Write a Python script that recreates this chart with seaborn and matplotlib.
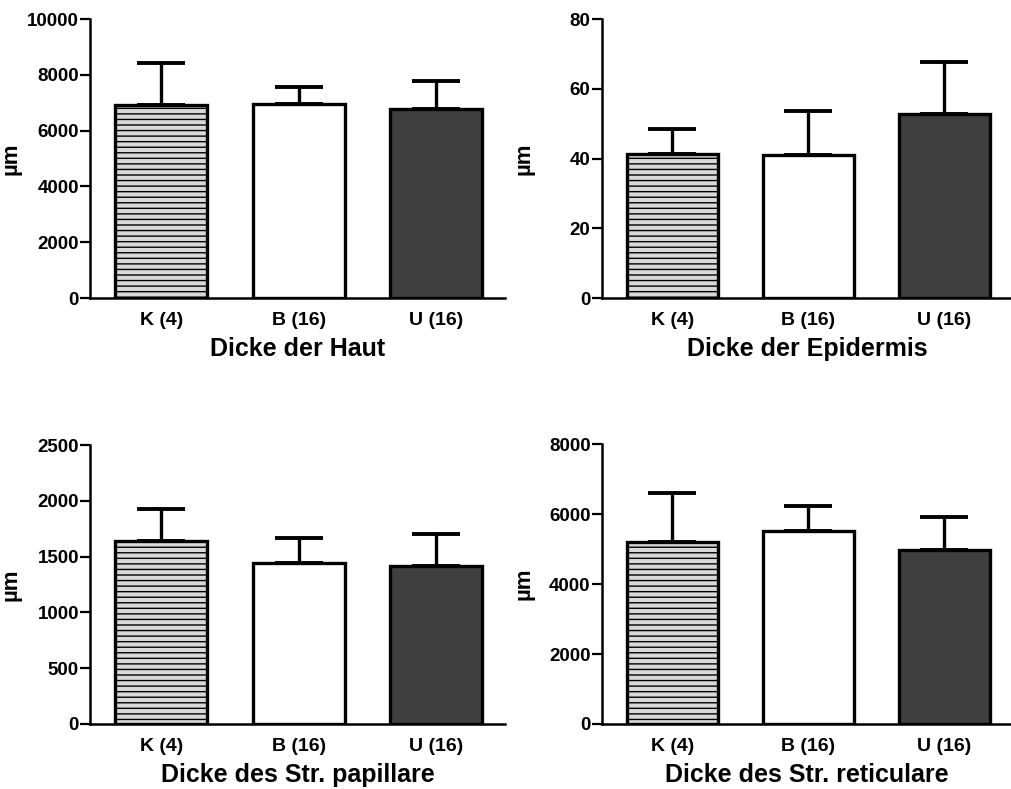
import numpy as np
import pandas as pd
import matplotlib
matplotlib.use("Agg")
import matplotlib.pyplot as plt
import seaborn as sns

# ---- data ----
groups = ["K (4)", "B (16)", "U (16)"]
titles = ["Dicke der Haut", "Dicke der Epidermis",
          "Dicke des Str. papillare", "Dicke des Str. reticulare"]
haut_mean = [6920, 6940, 6760]
haut_err = [1490, 620, 1020]
epi_mean = [41.4, 41.0, 52.8]
epi_err = [7.2, 12.6, 15.0]
pap_mean = [1640, 1443, 1419]
pap_err = [284, 221, 281]
ret_mean = [5214, 5529, 4968]
ret_err = [1384, 706, 961]
ylims = [10000, 80, 2500, 8000]
yticks = [[0, 2000, 4000, 6000, 8000, 10000],
          [0, 20, 40, 60, 80],
          [0, 500, 1000, 1500, 2000, 2500],
          [0, 2000, 4000, 6000, 8000]]
ylabel = "µm"
colors = ["#d8d8d8", "#ffffff", "#404040"]

means = [haut_mean, epi_mean, pap_mean, ret_mean]
errs = [haut_err, epi_err, pap_err, ret_err]

sns.set_theme(style="ticks")
plt.rcParams['font.family'] = ['Liberation Sans', 'DejaVu Sans']
plt.rcParams['font.weight'] = 'bold'
plt.rcParams['hatch.linewidth'] = 1.0
for k in ['text.color', 'axes.labelcolor', 'xtick.color', 'ytick.color',
          'axes.edgecolor']:
    plt.rcParams[k] = 'black'

fig = plt.figure(figsize=(10.12, 7.89), dpi=100)
W, H = 1012, 789
boxes = [(90, 505, 19, 298), (601.7, 1012, 19, 298),
         (90, 505, 445, 724), (601.7, 1012, 444.3, 724)]

for i, (x0, x1, yt, yb) in enumerate(boxes):
    ax = fig.add_axes([x0 / W, 1 - yb / H, (x1 - x0) / W, (yb - yt) / H])
    df = pd.DataFrame({"group": groups, "value": means[i]})
    sns.barplot(data=df, x="group", y="value", hue="group", palette=colors,
                order=groups, hue_order=groups, legend=False, width=0.67,
                edgecolor="black", linewidth=2.4, errorbar=None, ax=ax,
                saturation=1)
    for p in ax.patches:
        p.set_zorder(3)
    ax.patches[0].set_hatch("---")
    ax.errorbar(np.arange(len(groups)), means[i],
                yerr=[np.zeros(len(groups)), errs[i]], fmt="none",
                ecolor="black", elinewidth=2.4, capsize=17, capthick=2.8,
                zorder=2)
    ax.set_xlim(-0.52, 2.5)
    ax.set_ylim(0, ylims[i])
    ax.set_yticks(yticks[i])
    ax.set_yticklabels([str(t) for t in yticks[i]], fontsize=13.5,
                       fontweight="bold")
    ax.tick_params(axis="y", length=7, width=1.6, pad=1)
    ax.tick_params(axis="x", length=0, pad=10, labelsize=14)
    for lab in ax.get_xticklabels():
        lab.set_fontweight("bold")
    sns.despine(ax=ax)
    ax.spines["left"].set_linewidth(1.8)
    ax.spines["bottom"].set_linewidth(1.8)
    ax.set_ylabel(ylabel, fontsize=16, fontweight="bold")
    ax.yaxis.set_label_coords(-0.165, 0.5)
    ax.set_xlabel(titles[i], fontsize=18, fontweight="bold", labelpad=6)
    ax.set_facecolor("white")

fig.savefig("out.png", dpi=100, facecolor="white")
